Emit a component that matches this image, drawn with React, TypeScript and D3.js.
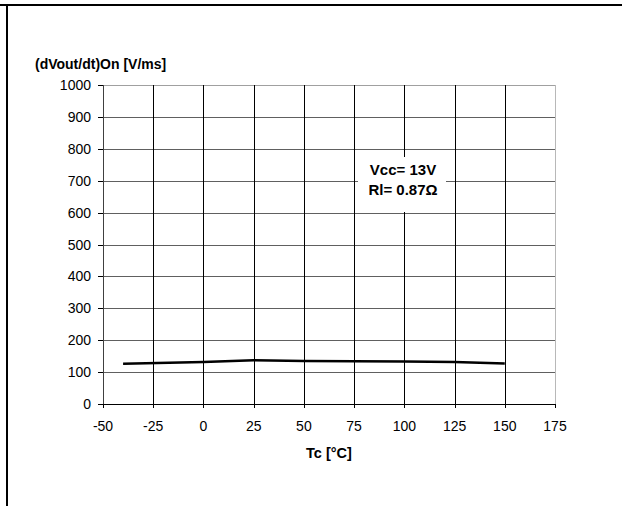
import React from "react";
import * as d3 from "d3";

const xTicks = [-50, -25, 0, 25, 50, 75, 100, 125, 150, 175];
const yTicks = [0, 100, 200, 300, 400, 500, 600, 700, 800, 900, 1000];
const tempC = [-40, 0, 25, 50, 75, 100, 125, 150];
const dvdtOn = [126, 132, 137, 135, 134, 133, 132, 127];
const yTitle = "(dVout/dt)On [V/ms]";
const xTitle = "Tc [°C]";
const noteLines = ["Vcc= 13V", "Rl= 0.87Ω"];

export default function App() {
  const W = 622, H = 506;
  const x = d3.scaleLinear().domain([-50, 175]).range([103, 555]);
  const y = d3.scaleLinear().domain([0, 1000]).range([404, 85]);
  const line = d3.line<number>().x((_, i) => x(tempC[i])).y((d) => y(d));
  const font = "Arial, 'Liberation Sans', sans-serif";
  const r = (v: number) => Math.round(v) + 0.5;
  return (
    <svg width={W} height={H} style={{ position: "absolute", left: 0, top: 0, background: "#fff" }} fontFamily={font}>
      <rect x={0} y={0} width={W} height={H} fill="#fff" />
      {/* frame */}
      <line x1={0} x2={W} y1={5} y2={5} stroke="#000" strokeWidth={2} />
      <line x1={7} x2={7} y1={4} y2={H} stroke="#000" strokeWidth={2} />
      {/* horizontal grid */}
      {yTicks.map((t) => (
        <line key={"h" + t} x1={x(-50)} x2={x(175)} y1={r(y(t))} y2={r(y(t))}
          stroke={t === 1000 ? "#a0a0a0" : t === 0 ? "#000" : "#606060"} strokeWidth={1} shapeRendering="crispEdges" />
      ))}
      {/* vertical grid */}
      {xTicks.map((t) => (
        <line key={"v" + t} x1={r(x(t))} x2={r(x(t))} y1={y(1000)} y2={y(0)}
          stroke={t === 175 ? "#b8b8b8" : t === -50 ? "#404040" : "#000"} strokeWidth={1} shapeRendering="crispEdges" />
      ))}
      {/* ticks */}
      {yTicks.map((t) => (
        <line key={"yt" + t} x1={x(-50) - 5} x2={x(-50)} y1={r(y(t))} y2={r(y(t))} stroke="#000" shapeRendering="crispEdges" />
      ))}
      {xTicks.map((t) => (
        <line key={"xt" + t} x1={r(x(t))} x2={r(x(t))} y1={y(0)} y2={y(0) + 4} stroke="#000" shapeRendering="crispEdges" />
      ))}
      {/* tick labels */}
      {yTicks.map((t) => (
        <text key={"yl" + t} x={91} y={y(t) + 5} textAnchor="end" fontSize={14} fill="#000">{t}</text>
      ))}
      {xTicks.map((t) => (
        <text key={"xl" + t} x={x(t)} y={431} textAnchor="middle" fontSize={14} fill="#000">{t}</text>
      ))}
      {/* titles */}
      <text x={35} y={69} fontSize={14} fontWeight="bold">{yTitle}</text>
      <text x={(x(-50) + x(175)) / 2} y={458} textAnchor="middle" fontSize={14.5} fontWeight="bold">{xTitle}</text>
      {/* annotation */}
      <rect x={358} y={157} width={88} height={55} fill="#fff" />
      {noteLines.map((s, i) => (
        <text key={s} x={403} y={175 + i * 20} textAnchor="middle" fontSize={15} fontWeight="bold">{s}</text>
      ))}
      {/* curve */}
      <path d={line(dvdtOn) || ""} fill="none" stroke="#000" strokeWidth={2.5} />
    </svg>
  );
}
